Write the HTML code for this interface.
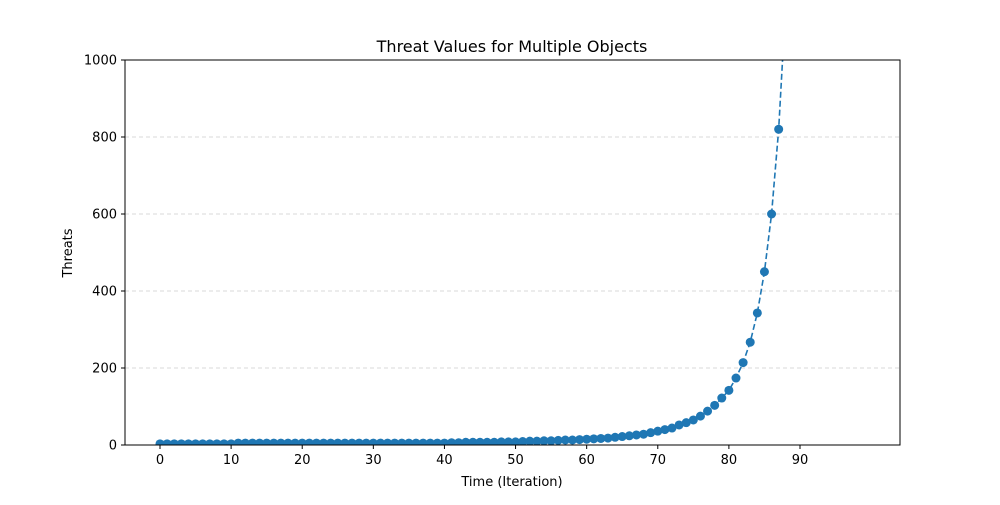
<!DOCTYPE html>
<html><head><meta charset="utf-8"><style>
body{margin:0;background:#fff;font-family:"Liberation Sans","DejaVu Sans",sans-serif}
</style></head><body>
<svg id="c" width="1000" height="500" xmlns="http://www.w3.org/2000/svg" font-family="'DejaVu Sans','Liberation Sans',sans-serif">
<defs><clipPath id="clip"><rect x="125" y="60" width="775" height="385"/></clipPath></defs>
<rect width="1000" height="500" fill="#fff"/>
<g id="grid"></g>
<g id="series" clip-path="url(#clip)"></g>
<rect x="125" y="60" width="775" height="385" fill="none" stroke="#000" stroke-width="1"/>
<g id="axes"></g>
<text x="512" y="52" font-size="16" text-anchor="middle">Threat Values for Multiple Objects</text>
<text x="512" y="486" font-size="13" text-anchor="middle">Time (Iteration)</text>
<text x="72" y="253" font-size="13" text-anchor="middle" transform="rotate(-90 72 253)">Threats</text>
</svg>
<script>
const values = [3,3,3,3,3,3,3,3,3,3,3,5,5,5,5,5,5,5,5,5,5,5,5,5,5,5,5,5,5,5,5,5,5,5,5,5,5,5,5,5,5,6,6,7,7,7,7,7,8,8,8,9,10,10,11,11,12,13,13,14,15,16,17,18,20,22,24,26,28,32,36,40,44,52,58,65,75,88,103,122,142,174,214,267,343,450,600,820,1150];
const xTicks = [0,10,20,30,40,50,60,70,80,90];
const yTicks = [0,200,400,600,800,1000];
const NS="http://www.w3.org/2000/svg";
const X=v=>160+v*(640/90), Y=v=>445-v*0.385;
function mk(t,a,p){const e=document.createElementNS(NS,t);for(const k in a)e.setAttribute(k,a[k]);(p||document.getElementById('c')).appendChild(e);return e;}
const grid=document.getElementById('grid'), axes=document.getElementById('axes'), ser=document.getElementById('series');
yTicks.forEach(t=>{
  if(t>0&&t<1000){const g=mk('line',{x1:125,x2:900,y1:Y(t),y2:Y(t),stroke:'#ccc','stroke-dasharray':'4,3','stroke-width':0.8},grid);
  
  }
  const l=mk('line',{x1:121,x2:125,y1:Y(t),y2:Y(t),stroke:'#000'},axes);
  
  
  const tx=mk('text',{x:117,y:Y(t)+4.5,'font-size':13,'text-anchor':'end'},axes);tx.textContent=t;
  
  
});
xTicks.forEach(t=>{
  const l=mk('line',{x1:X(t),x2:X(t),y1:445,y2:449,stroke:'#000'},axes);
  
  
  const tx=mk('text',{x:X(t),y:464,'font-size':13,'text-anchor':'middle'},axes);tx.textContent=t;
  
  
});
const pts=values.map((v,i)=>X(i).toFixed(2)+','+Y(v).toFixed(2)).join(' ');
const pl=mk('polyline',{points:pts,fill:'none',stroke:'#1f77b4','stroke-width':1.6,'stroke-dasharray':'6,3'},ser);


values.forEach((v,i)=>{
  const c=mk('circle',{cx:X(i),cy:Y(v),r:4.5,fill:'#1f77b4'},ser);
  
  
});
</script>
</body></html>
